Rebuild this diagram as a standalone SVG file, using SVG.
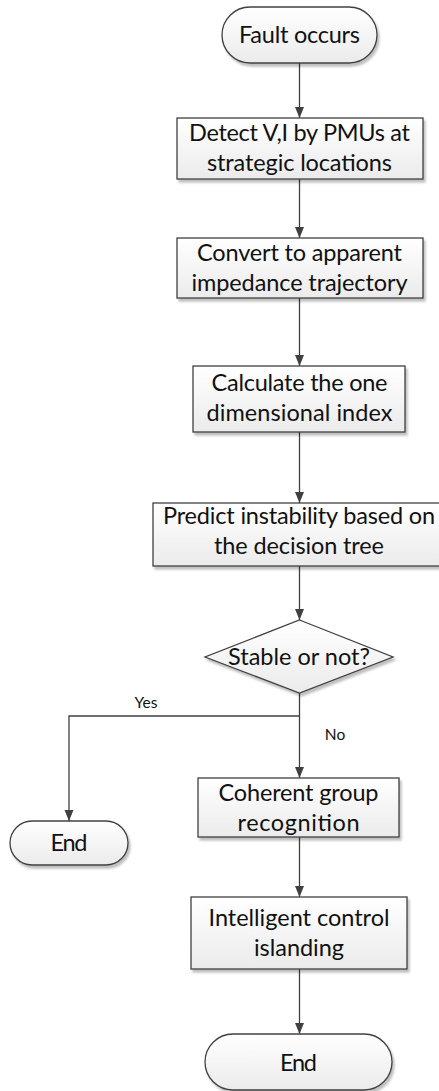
<svg xmlns="http://www.w3.org/2000/svg" width="439" height="1091" viewBox="0 0 439 1091">
  <defs>
    <linearGradient id="boxFill" x1="0" y1="0" x2="0" y2="1">
      <stop offset="0" stop-color="#ffffff"/>
      <stop offset="1" stop-color="#ebebeb"/>
    </linearGradient>
    <filter id="shadow" x="-10%" y="-10%" width="125%" height="140%">
      <feDropShadow dx="2" dy="3" stdDeviation="1.2" flood-color="#000" flood-opacity="0.25"/>
    </filter>
    <marker id="arrow" markerUnits="userSpaceOnUse" markerWidth="12" markerHeight="12" viewBox="0 0 12 12" refX="11" refY="6" orient="auto">
      <path d="M0,1.5 L11,6 L0,10.5 Z" fill="#404040"/>
    </marker>
    <style>
      .shape { fill: url(#boxFill); stroke: #404040; stroke-width: 1.3; filter: url(#shadow); }
      .label { font-family: Lato, "Liberation Sans", sans-serif; font-size: 23.5px; fill: #111111; text-anchor: middle; }
      .small { font-family: Lato, "Liberation Sans", sans-serif; font-size: 15.5px; fill: #111111; text-anchor: middle; }
      .link { fill: none; stroke: #404040; stroke-width: 1.3; }
      .link.arr { marker-end: url(#arrow); }
    </style>
  </defs>

  <!-- connectors -->
  <g id="connectors">
    <path class="link arr" d="M299.5,63 V118"/>
    <path class="link arr" d="M299.5,179 V238"/>
    <path class="link arr" d="M299.5,298 V366"/>
    <path class="link arr" d="M299.5,432 V503"/>
    <path class="link arr" d="M299.5,566 V620"/>
    <path class="link arr" d="M299.5,693 V778"/>
    <path class="link arr" d="M299.5,716 H69 V821"/>
    <path class="link arr" d="M299.5,837 V897"/>
    <path class="link arr" d="M299.5,969 V1034"/>
    <text class="small" x="146" y="708">Yes</text>
    <text class="small" x="335" y="740">No</text>
  </g>

  <g id="start">
    <rect class="shape" x="222" y="7" width="155" height="56" rx="28" ry="28"/>
    <text class="label" x="299.5" y="43" textLength="121">Fault occurs</text>
  </g>

  <g id="detect">
    <rect class="shape" x="177" y="118" width="246" height="61"/>
    <text class="label" x="299.5" y="141" textLength="221">Detect V,I by PMUs at</text>
    <text class="label" x="299.5" y="171" textLength="185">strategic locations</text>
  </g>

  <g id="convert">
    <rect class="shape" x="177" y="238" width="246" height="60"/>
    <text class="label" x="299.5" y="261" textLength="205">Convert to apparent</text>
    <text class="label" x="299.5" y="291" textLength="216">impedance trajectory</text>
  </g>

  <g id="calculate">
    <rect class="shape" x="193" y="366" width="212" height="66"/>
    <text class="label" x="299.5" y="391" textLength="176">Calculate the one</text>
    <text class="label" x="299.5" y="421" textLength="186">dimensional index</text>
  </g>

  <g id="predict">
    <rect class="shape" x="153" y="503" width="292" height="63"/>
    <text class="label" x="299" y="524" textLength="272">Predict instability based on</text>
    <text class="label" x="299" y="554" textLength="170">the decision tree</text>
  </g>

  <g id="decision">
    <polygon class="shape" points="299.5,620 393,657 299.5,693 205,657"/>
    <text class="label" x="299" y="665" textLength="142">Stable or not?</text>
  </g>

  <g id="end-yes">
    <rect class="shape" x="10" y="821" width="118" height="44" rx="22" ry="22"/>
    <text class="label" x="69" y="851" textLength="37">End</text>
  </g>

  <g id="coherent">
    <rect class="shape" x="198" y="778" width="201" height="59"/>
    <text class="label" x="298.5" y="801" textLength="160">Coherent group</text>
    <text class="label" x="298.5" y="831" textLength="122">recognition</text>
  </g>

  <g id="islanding">
    <rect class="shape" x="191" y="897" width="216" height="72"/>
    <text class="label" x="299" y="926" textLength="181">Intelligent control</text>
    <text class="label" x="299" y="956" textLength="90">islanding</text>
  </g>

  <g id="end-no">
    <rect class="shape" x="205" y="1034" width="187" height="56" rx="28" ry="28"/>
    <text class="label" x="298.5" y="1071" textLength="37">End</text>
  </g>
</svg>
